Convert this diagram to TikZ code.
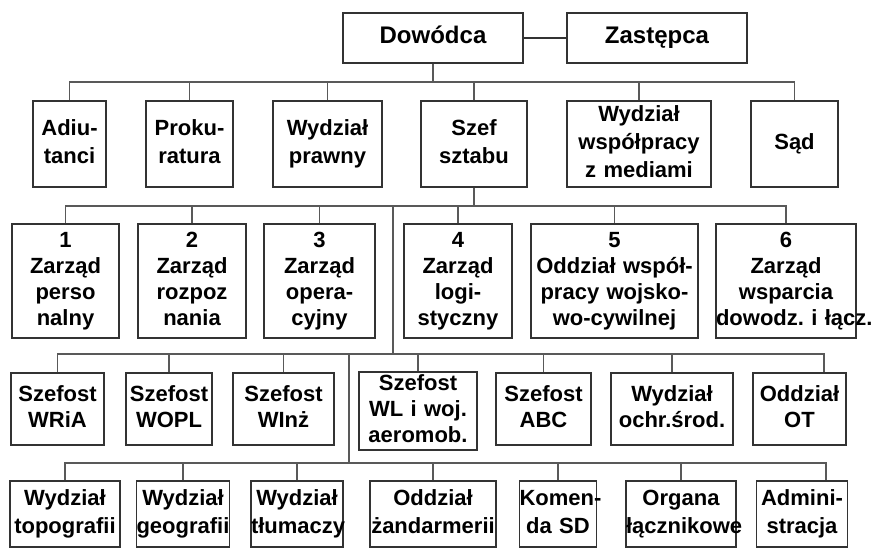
\documentclass[tikz,border=0pt]{standalone}
\usepackage{fontspec}
\setmainfont{Liberation Sans}
\frenchspacing

\begin{document}
\begin{tikzpicture}[x=1pt,y=-1pt,
    box/.style={draw=black!80, line width=1.4pt, inner sep=0pt, align=center,
      font=\bfseries\fontsize{22}{26}\selectfont,
      execute at begin node=\strut, execute at end node=\strut},
    wd/.style={text width=#1pt},
    top/.style={box, minimum height=50pt, font=\bfseries\fontsize{24}{28}\selectfont},
    rowa/.style={box, minimum height=86pt, font=\bfseries\fontsize{22}{28}\selectfont},
    rowb/.style={box, minimum height=114pt},
    rowc/.style={box, minimum height=72pt},
    rowd/.style={box, minimum height=66pt, font=\bfseries\fontsize{22}{28}\selectfont},
    link/.style={draw=black!65, line width=1.2pt}]
            \useasboundingbox (0,0) rectangle (889,548);
            % dowodca
            \node[top, wd=180](dow)at(433,38){Dowódca};
            \node[top, wd=180](zas)at(657,38){Zastępca};
            \draw[box](dow)--(zas);
            % szczebel 1
            \node[rowa, wd=73](adi)at(69.5,144){Adiu-\\tanci};
            \node[rowa, wd=87](prok)at(189.5,144){Proku-\\ratura};
            \node[rowa, wd=109](praw)at(327.5,144){Wydział\\prawny};
            \node[rowa, wd=106](szef)at(474,144){Szef\\sztabu};
            \node[rowa, wd=144](media)at(639,144){Wydział\\współpracy\\z mediami};
            \node[rowa, wd=87](sad)at(794.5,144){Sąd};
            % zarzady
            \node[rowb, wd=107](z1)at(65.5,281){1\\Zarząd\\perso\\nalny};
            \node[rowb, wd=108](z2)at(192,281){2\\Zarząd\\rozpoz\\nania};
            \node[rowb, wd=111](z3)at(319.5,281){3\\Zarząd\\opera-\\cyjny};
            \node[rowb, wd=108](z4)at(458,281){4\\Zarząd\\logi-\\styczny};
            \node[rowb, wd=167](z5)at(614.5,281){5\\Oddział współ-\\pracy wojsko-\\wo-cywilnej};
            \node[rowb, wd=140](z6)at(786,281){6\\Zarząd\\wsparcia\\\mbox{dowodz. i łącz.}};
            % szefostwa
            \node[rowc, wd=93](wria)at(57.5,409){Szefost\\WRiA};
            \node[rowc, wd=86](wopl)at(169,409){Szefost\\WOPL};
            \node[rowc, wd=101](winz)at(283.5,409){Szefost\\WInż};
            \node[rowc, wd=118, minimum height=76pt](wl)at(418,411){Szefost\\WL i woj.\\aeromob.};
            \node[rowc, wd=95](abc)at(543.5,409){Szefost\\ABC};
            \node[rowc, wd=122](ochr)at(672,409){Wydział\\ochr.środ.};
            \node[rowc, wd=93](ot)at(799.5,409){Oddział\\OT};
            % wydzialy
            \node[rowd, wd=110](topo)at(65,514){Wydział\\\mbox{topografii}};
            \node[rowd, wd=93](geo)at(183,514){Wydział\\\mbox{geografii}};
            \node[rowd, wd=92](tlum)at(297,514){Wydział\\\mbox{tłumaczy}};
            \node[rowd, wd=126](zand)at(433,514){Oddział\\\mbox{żandarmerii}};
            \node[rowd, wd=77](kom)at(558,514){\mbox{Komen-}\\da SD};
            \node[rowd, wd=110](org)at(681,514){Organa\\\mbox{łącznikowe}};
            \node[rowd, wd=91](adm)at(802,514){\mbox{Admini-}\\stracja};
            % szyny
            \coordinate(bar0)at(0,82);
            \coordinate(bar1)at(393,206);
            \coordinate(bar2)at(349,354);
            \coordinate(bar3)at(0,463);
            \coordinate(otup)at([xshift=24.5pt]ot.north);
            \coordinate(admup)at([xshift=24pt]adm.north);
            \draw[link](dow.south)--(dow.south|-bar0);
            \draw[link](adi.north)|-(bar0-|sad.north)--(sad.north);
            \foreach \n in {prok,praw,szef,media}
              \draw[link](\n.north)--(\n.north|-bar0);
            \draw[link](szef.south)--(szef.south|-bar1);
            \draw[link](z1.north)|-(bar1-|z6.north)--(z6.north);
            \foreach \n in {z2,z3,z4,z5}
              \draw[link](\n.north)--(\n.north|-bar1);
            \draw[link](bar1)--(bar1|-bar2);
            \draw[link](wria.north)|-(bar2-|otup)--(otup);
            \foreach \n in {wopl,winz,wl,abc,ochr}
              \draw[link](\n.north)--(\n.north|-bar2);
            \draw[link](bar2)--(bar2|-bar3);
            \draw[link](topo.north)|-(bar3-|admup)--(admup);
            \foreach \n in {geo,tlum,zand,kom,org}
              \draw[link](\n.north)--(\n.north|-bar3);
        \end{tikzpicture}
\end{document}
